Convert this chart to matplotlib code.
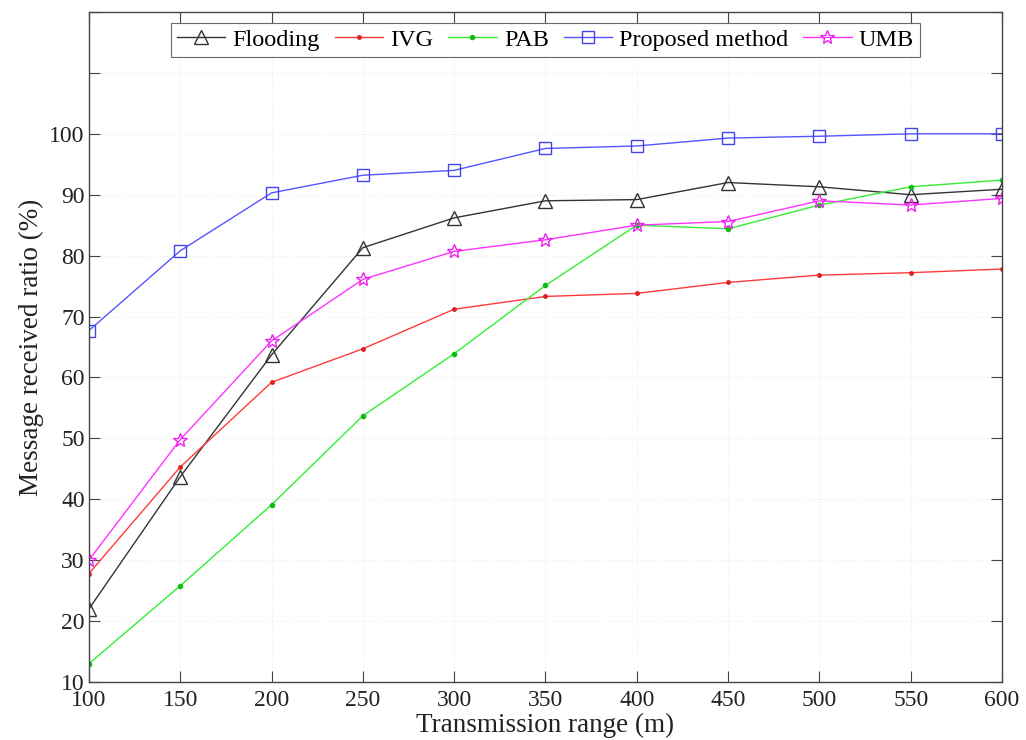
import matplotlib
matplotlib.use("Agg")
import matplotlib.pyplot as plt

plt.rcParams['font.family'] = ['Liberation Serif', 'DejaVu Serif']
plt.rcParams['mathtext.fontset'] = 'stix'

x = [100, 150, 200, 250, 300, 350, 400, 450, 500, 550, 600]
flooding = [22.0, 43.7, 63.7, 81.3, 86.2, 89.0, 89.2, 92.0, 91.3, 90.0, 90.9]
ivg = [27.8, 45.3, 59.2, 64.7, 71.2, 73.3, 73.8, 75.6, 76.8, 77.2, 77.8]
pab = [13.0, 25.8, 39.1, 53.7, 63.9, 75.1, 85.0, 84.4, 88.3, 91.3, 92.4]
proposed = [67.7, 80.8, 90.3, 93.2, 94.0, 97.6, 98.0, 99.3, 99.6, 100.0, 100.0]
umb = [30.0, 49.8, 66.0, 76.1, 80.7, 82.6, 85.0, 85.6, 89.0, 88.3, 89.4]

xticks = [100, 150, 200, 250, 300, 350, 400, 450, 500, 550, 600]
yticks = [10, 20, 30, 40, 50, 60, 70, 80, 90, 100, 110, 120]
ytick_labels = ['10', '20', '30', '40', '50', '60', '70', '80', '90', '100', '', '']

fig = plt.figure(figsize=(10.26, 7.40), dpi=100)
ax = fig.add_axes([0.0867, 0.0784, 0.8899, 0.9054])

ax.plot(x, flooding, color='#333333', lw=1.0, marker='^', ms=10, mfc='none', mec='#333333', mew=1.0, label='Flooding')
ax.plot(x, ivg, color='#ff3b3b', lw=1.0, marker='.', ms=5, mfc='#dd2222', mec='#dd2222', label='IVG')
ax.plot(x, pab, color='#33ee33', lw=1.0, marker='.', ms=6, mfc='#11bb11', mec='#11bb11', label='PAB')
ax.plot(x, proposed, color='#5555ff', lw=1.0, marker='s', ms=9, mfc='none', mec='#4444ee', mew=1.0, label='Proposed method')
ax.plot(x, umb, color='#ff33ff', lw=1.0, marker='*', ms=10, mfc='none', mec='#ee22ee', mew=1.0, label='UMB')

ax.set_xlim(100, 600)
ax.set_ylim(10, 120)
ax.set_xticks(xticks)
ax.set_yticks(yticks)
ax.set_yticklabels(ytick_labels)
ax.tick_params(direction='in', top=True, right=True, labelsize=17, length=8, width=0.8,
               colors='#444444', labelcolor='#222222')
ax.tick_params(axis='x', pad=6)
ax.tick_params(axis='y', pad=3)
for s in ax.spines.values():
    s.set_color('#444444')
    s.set_linewidth(1.0)
ax.grid(True, color='#eeeeee', linestyle=':', linewidth=0.8)

ax.set_xlabel('Transmission range (m)', fontsize=19.5, labelpad=1, color='#222222')
ax.set_ylabel('Message received ratio (%)', fontsize=19.5, labelpad=4, color='#222222')

leg = ax.legend(loc='upper center', ncol=5, fontsize=17.5, frameon=True, fancybox=False,
                edgecolor='#444444', handlelength=2.0, handletextpad=0.3, columnspacing=0.6,
                borderpad=0.25, borderaxespad=0, bbox_to_anchor=(0.5, 0.984))
leg.get_frame().set_linewidth(0.8)

fig.savefig('out.png', dpi=100)
